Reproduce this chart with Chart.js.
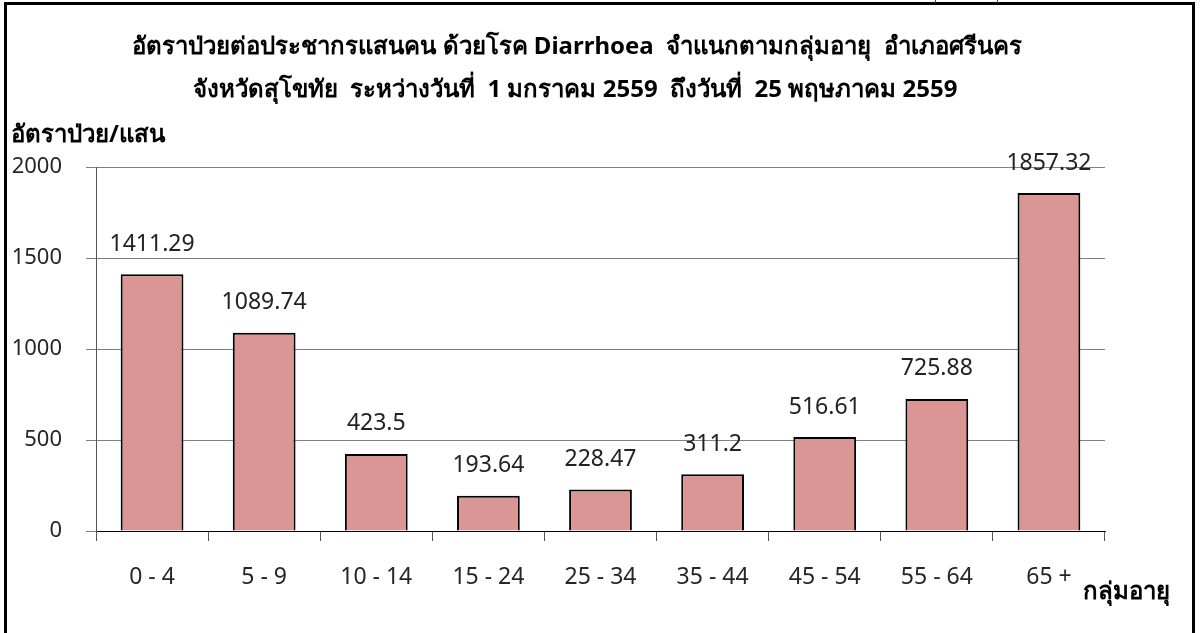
<!DOCTYPE html>
<html lang="th">
<head>
    <meta charset="UTF-8">
    <title>อัตราป่วย Diarrhoea จำแนกตามกลุ่มอายุ</title>
    <script src="https://cdn.jsdelivr.net/npm/chart.js"></script>
    <style>
        body {
            margin: 0;
            background-color: #fff;
            overflow: hidden;
        }
        .frame {
            position: absolute;
            left: 4px;
            top: 2px;
            width: 1191px;
            height: 660px;
            border: 3px solid #000;
            box-sizing: border-box;
        }
        .cell {
            position: absolute;
            top: 0;
            width: 1px;
            height: 3px;
            background-color: #444;
        }
        #chart {
            position: absolute;
            left: 0;
            top: 0;
        }
    </style>
</head>
<body>
    <div class="frame"></div>
    <div class="cell" style="left:935px"></div>
    <div class="cell" style="left:997px"></div>
    <canvas id="chart" width="1200" height="633"></canvas>
    <script>
        // data
        const ageGroups = ['0 - 4', '5 - 9', '10 - 14', '15 - 24', '25 - 34', '35 - 44', '45 - 54', '55 - 64', '65 +'];
        const rates = [1411.29, 1089.74, 423.5, 193.64, 228.47, 311.2, 516.61, 725.88, 1857.32];
        const yTicks = [0, 500, 1000, 1500, 2000];
        const titleLines = [
            'อัตราป่วยต่อประชากรแสนคน ด้วยโรค Diarrhoea  จำแนกตามกลุ่มอายุ  อำเภอศรีนคร',
            'จังหวัดสุโขทัย  ระหว่างวันที่  1 มกราคม 2559  ถึงวันที่  25 พฤษภาคม 2559'
        ];
        const yTitle = 'อัตราป่วย/แสน';
        const xTitle = 'กลุ่มอายุ';

        const FONT = "'Noto Sans', 'Open Sans', sans-serif";

        // titles, axis names and values over the bars
        const textPlugin = {
            id: 'texts',
            afterDatasetsDraw(chart) {
                const ctx = chart.ctx;
                const area = chart.chartArea;
                ctx.save();
                ctx.fillStyle = '#000';
                ctx.textBaseline = 'middle';

                ctx.font = 'bold 24px ' + FONT;
                ctx.textAlign = 'center';
                ctx.fillText(titleLines[0], 577, 47);
                ctx.fillText(titleLines[1], 575, 90);

                ctx.textAlign = 'left';
                ctx.fillText(yTitle, 11, 135);
                ctx.fillText(xTitle, area.right - 22, 592);

                ctx.font = '23px ' + FONT;
                ctx.fillStyle = '#222';
                ctx.textAlign = 'center';
                const meta = chart.getDatasetMeta(0);
                meta.data.forEach((bar, i) => {
                    ctx.fillText(String(rates[i]), bar.x, bar.y - 30);
                });
                ctx.restore();
            }
        };

        new Chart(document.getElementById('chart'), {
            type: 'bar',
            data: {
                labels: ageGroups,
                datasets: [{
                    data: rates,
                    backgroundColor: '#d99694',
                    borderColor: '#000',
                    borderWidth: 2,
                    categoryPercentage: 1,
                    barPercentage: 0.56
                }]
            },
            options: {
                responsive: false,
                devicePixelRatio: 1,
                animation: false,
                layout: { padding: { top: 167, right: 95, left: 0, bottom: 0 } },
                plugins: {
                    legend: { display: false },
                    title: { display: false },
                    tooltip: { enabled: false }
                },
                scales: {
                    x: {
                        afterFit(scale) { scale.height = 102; },
                        grid: {
                            display: true,
                            drawOnChartArea: false,
                            offset: true,
                            tickLength: 10,
                            color: '#555'
                        },
                        border: { color: '#000' },
                        ticks: {
                            padding: 23,
                            color: '#262626',
                            font: { family: FONT, size: 23 }
                        }
                    },
                    y: {
                        min: 0,
                        max: 2000,
                        afterFit(scale) { scale.width = 96; },
                        afterBuildTicks(scale) { scale.ticks = yTicks.map(v => ({ value: v })); },
                        grid: { color: '#808080', tickLength: 10 },
                        border: { color: '#555' },
                        ticks: {
                            padding: 24,
                            color: '#262626',
                            font: { family: FONT, size: 22 },
                            callback: v => String(v)
                        }
                    }
                }
            },
            plugins: [textPlugin]
        });
    </script>
</body>
</html>
